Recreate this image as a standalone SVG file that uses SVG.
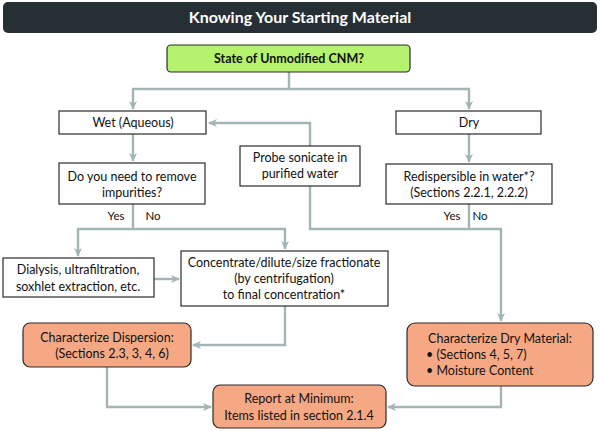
<svg xmlns="http://www.w3.org/2000/svg" width="600" height="431" viewBox="0 0 600 431">
<style>
text{font-family:Lato,"Open Sans","Liberation Sans",sans-serif;font-size:12.5px;fill:#111;text-anchor:middle}
.box{fill:#fff;stroke:#2b2b2b;stroke-width:1.2}
.org{fill:#f6a884;stroke:#2b2b2b;stroke-width:1.2}
.con{fill:none;stroke:#a3b6b6;stroke-width:2.4}
.lbl{font-size:11.5px}
</style>
<defs>
<marker id="ah" markerWidth="10" markerHeight="8" refX="8" refY="4" orient="auto" markerUnits="userSpaceOnUse">
<path d="M0,0 L9,4 L0,8 L2.5,4 Z" fill="#a3b6b6"/>
</marker>
</defs>
<rect width="600" height="431" fill="#fff"/>
<g id="title">
<rect x="3" y="2" width="594" height="31" rx="5" fill="#263034"/>
<text x="300" y="23" style="font-size:16px;font-weight:bold;fill:#fff">Knowing Your Starting Material</text>
</g>
<g id="connectors">
<path class="con" d="M289,72 V89 H133 V109" marker-end="url(#ah)"/>
<path class="con" d="M289,89 H469 V109" marker-end="url(#ah)"/>
<path class="con" d="M133,134 V161" marker-end="url(#ah)"/>
<path class="con" d="M133,204 V229 H78 V256" marker-end="url(#ah)"/>
<path class="con" d="M133,229 H285 V249" marker-end="url(#ah)"/>
<path class="con" d="M154,279 H179" marker-end="url(#ah)"/>
<path class="con" d="M310,146 V123 H209" marker-end="url(#ah)"/>
<path class="con" d="M469,134 V162" marker-end="url(#ah)"/>
<path class="con" d="M469,204 V229 H310 V186"/>
<path class="con" d="M469,229 H501 V321" marker-end="url(#ah)"/>
<path class="con" d="M285,306 V345 H193" marker-end="url(#ah)"/>
<path class="con" d="M107,367 V407 H211" marker-end="url(#ah)"/>
<path class="con" d="M501,386 V407 H388" marker-end="url(#ah)"/>
</g>
<g id="state">
<rect x="167" y="45" width="243" height="27" rx="4" fill="#b5f26e" stroke="#2b2b2b" stroke-width="1.2"/>
<text x="289" y="63" style="font-weight:bold">State of Unmodified CNM?</text>
</g>
<g id="wet">
<rect class="box" x="59" y="111" width="147" height="23"/>
<text x="133" y="127">Wet (Aqueous)</text>
</g>
<g id="dry">
<rect class="box" x="396" y="111" width="145" height="23"/>
<text x="469" y="127">Dry</text>
</g>
<g id="impurities">
<rect class="box" x="59" y="163" width="146" height="41"/>
<text x="132" y="181">Do you need to remove</text>
<text x="132" y="197">impurities?</text>
</g>
<g id="labels-left">
<text class="lbl" x="116" y="220">Yes</text>
<text class="lbl" x="153" y="220">No</text>
</g>
<g id="probe">
<rect class="box" x="240" y="146" width="120" height="40"/>
<text x="300" y="162">Probe sonicate in</text>
<text x="300" y="178">purified water</text>
</g>
<g id="redispersible">
<rect class="box" x="386" y="164" width="166" height="40"/>
<text x="469" y="181">Redispersible in water*?</text>
<text x="469" y="197">(Sections 2.2.1, 2.2.2)</text>
</g>
<g id="labels-right">
<text class="lbl" x="452" y="220">Yes</text>
<text class="lbl" x="480" y="220">No</text>
</g>
<g id="dialysis">
<rect class="box" x="3" y="258" width="151" height="39"/>
<text x="78" y="274">Dialysis, ultrafiltration,</text>
<text x="78" y="291">soxhlet extraction, etc.</text>
</g>
<g id="concentrate">
<rect class="box" x="181" y="251" width="207" height="55"/>
<text x="284" y="267">Concentrate/dilute/size fractionate</text>
<text x="284" y="283">(by centrifugation)</text>
<text x="284" y="299">to final concentration*</text>
</g>
<g id="dispersion">
<rect class="org" x="23" y="323" width="168" height="44" rx="7"/>
<text x="107" y="342">Characterize Dispersion:</text>
<text x="112" y="358">(Sections 2.3, 3, 4, 6)</text>
</g>
<g id="drymaterial">
<rect class="org" x="407" y="323" width="186" height="63" rx="8"/>
<text x="500" y="343">Characterize Dry Material:</text>
<text x="426" y="359" style="text-anchor:start">• (Sections 4, 5, 7)</text>
<text x="426" y="375" style="text-anchor:start">• Moisture Content</text>
</g>
<g id="report">
<rect class="org" x="213" y="385" width="173" height="43" rx="7"/>
<text x="299" y="403">Report at Minimum:</text>
<text x="299" y="420">Items listed in section 2.1.4</text>
</g>
</svg>
